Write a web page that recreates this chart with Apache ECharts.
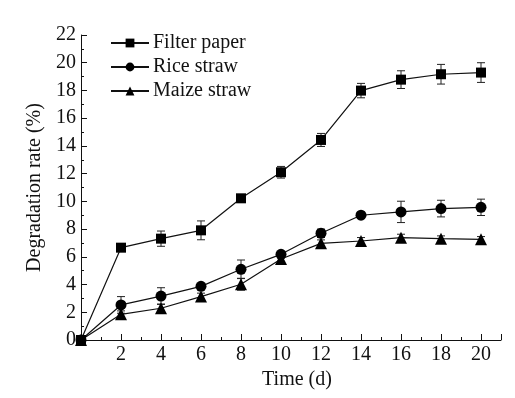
<!DOCTYPE html>
<html>
<head>
<meta charset="utf-8">
<script src="https://cdn.jsdelivr.net/npm/echarts@6/dist/echarts.min.js"></script>
<style>
  html, body { margin: 0; padding: 0; background: #fff; }
  #chart { width: 515px; height: 398px; }
</style>
</head>
<body>
<div id="chart"></div>
<script>
// 数据
const days = [0, 2, 4, 6, 8, 10, 12, 14, 16, 18, 20]
const filterPaper = [0, 6.66, 7.31, 7.91, 10.22, 12.1, 14.43, 17.99, 18.78, 19.17, 19.29]
const filterErr = [0, 0.1, 0.55, 0.68, 0.15, 0.42, 0.47, 0.52, 0.64, 0.71, 0.71]
const riceStraw = [0, 2.53, 3.17, 3.87, 5.1, 6.18, 7.7, 9.0, 9.24, 9.48, 9.57]
const riceErr = [0, 0.6, 0.6, 0.2, 0.67, 0.2, 0.3, 0.15, 0.77, 0.6, 0.59]
const maizeStraw = [0, 1.85, 2.29, 3.13, 4.02, 5.84, 6.97, 7.14, 7.38, 7.31, 7.26]
const maizeErr = [0, 0.25, 0.3, 0.25, 0.43, 0.25, 0.25, 0.25, 0.25, 0.2, 0.2]

const font = 'Liberation Serif, Times New Roman, serif'

const pairs = (ys) => days.map((d, i) => [d, ys[i]])

// 误差线
const errorSeries = (ys, errs) => ({
  type: 'custom',
  silent: true,
  z: 1,
  data: days.map((d, i) => [d, ys[i] - errs[i], ys[i] + errs[i]]),
  renderItem: (params, api) => {
    if (api.value(2) - api.value(1) <= 0) return null
    const lo = api.coord([api.value(0), api.value(1)])
    const hi = api.coord([api.value(0), api.value(2)])
    const w = 4
    const style = { stroke: '#222', lineWidth: 1 }
    return {
      type: 'group',
      children: [
        { type: 'line', shape: { x1: lo[0], y1: lo[1], x2: hi[0], y2: hi[1] }, style },
        { type: 'line', shape: { x1: lo[0] - w, y1: lo[1], x2: lo[0] + w, y2: lo[1] }, style },
        { type: 'line', shape: { x1: hi[0] - w, y1: hi[1], x2: hi[0] + w, y2: hi[1] }, style }
      ]
    }
  }
})

const lineSeries = (name, ys, symbol, size) => ({
  name,
  type: 'line',
  data: pairs(ys),
  symbol,
  symbolSize: size,
  showAllSymbol: true,
  z: 3,
  lineStyle: { color: '#111', width: 1.2 },
  itemStyle: { color: '#000' }
})

const chart = echarts.init(document.getElementById('chart'))

chart.setOption({
  animation: false,
  grid: { left: 81, right: 14, top: 35, bottom: 58 },
  legend: {
    orient: 'vertical',
    left: 105,
    top: 28,
    itemGap: 4,
    itemWidth: 38,
    itemHeight: 11,
    textStyle: { fontFamily: font, fontSize: 20, color: '#111', padding: [0, 0, 0, -1] },
    data: ['Filter paper', 'Rice straw', 'Maize straw']
  },
  xAxis: {
    type: 'value',
    min: 0,
    max: 21,
    interval: 2,
    name: 'Time (d)',
    nameLocation: 'middle',
    nameGap: 30,
    nameTextStyle: { fontFamily: font, fontSize: 20, color: '#111', padding: [0, 0, 0, 12] },
    axisLine: { lineStyle: { color: '#111', width: 1 } },
    axisTick: { inside: true, length: 6, lineStyle: { color: '#111' } },
    minorTick: { show: true, splitNumber: 2, length: 3, lineStyle: { color: '#111' } },
    axisLabel: {
      fontFamily: font,
      fontSize: 20,
      color: '#111',
      margin: 5,
      formatter: (v) => (v > 0 && v <= 20 ? String(v) : '')
    },
    splitLine: { show: false }
  },
  yAxis: {
    type: 'value',
    min: 0,
    max: 22,
    interval: 2,
    name: 'Degradation rate (%)',
    nameLocation: 'middle',
    nameGap: 34,
    nameTextStyle: { fontFamily: font, fontSize: 20, color: '#111' },
    axisLine: { show: true, lineStyle: { color: '#111', width: 1 } },
    axisTick: { show: true, inside: true, length: 6, lineStyle: { color: '#111' } },
    minorTick: { show: true, splitNumber: 2, length: 3, lineStyle: { color: '#111' } },
    axisLabel: { fontFamily: font, fontSize: 20, color: '#111', margin: 5 },
    splitLine: { show: false }
  },
  series: [
    errorSeries(filterPaper, filterErr),
    errorSeries(riceStraw, riceErr),
    errorSeries(maizeStraw, maizeErr),
    lineSeries('Filter paper', filterPaper, 'rect', 10),
    lineSeries('Rice straw', riceStraw, 'circle', 11),
    lineSeries('Maize straw', maizeStraw, 'triangle', 12)
  ]
})
</script>
</body>
</html>
